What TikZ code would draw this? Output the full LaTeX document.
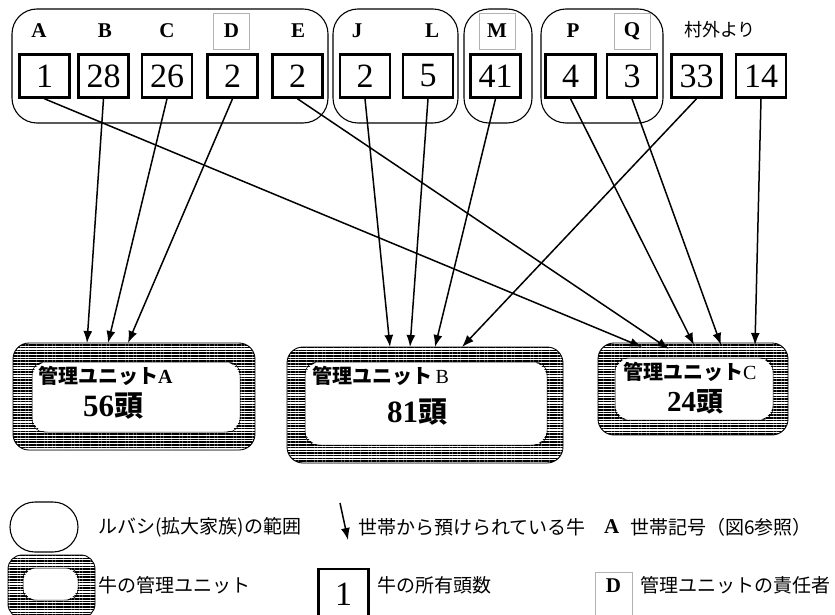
\documentclass[tikz,border=0pt]{standalone}
\usepackage{fontspec}
\setmainfont{Liberation Serif}
\newfontfamily\cjk{Noto Sans CJK JP}
\usetikzlibrary{arrows.meta,patterns.meta}
\begin{document}
\begin{tikzpicture}[x=1pt,y=-1pt,
  numbox/.style={draw, line width=2.6pt, minimum width=50pt, minimum height=43pt, inner sep=0pt, font=\fontsize{34}{34}\selectfont},
  hh/.style={font=\bfseries\fontsize{21}{21}\selectfont, inner sep=0pt},
  respbox/.style={hh, draw=gray!60, line width=0.7pt, minimum width=36pt, minimum height=36pt},
  grp/.style={draw, line width=1.1pt, rounded corners=25pt},
  link/.style={-{Latex[length=12pt,width=9pt]}, line width=1.5pt},
  hatch/.style={pattern={Lines[angle=0,distance=2.7pt,line width=1.5pt]}, even odd rule},
  lg/.style={font=\cjk\fontsize{19}{19}\selectfont, inner sep=0pt, anchor=west},
  ulabel/.style={font=\cjk\bfseries\fontsize{20}{20}\selectfont, inner sep=0pt, anchor=west},
  ucount/.style={inner sep=0pt}
]
\useasboundingbox (0,0) rectangle (835,615);

% groups (extended families)
\draw[grp] (12,9) rectangle (328,123);
\draw[grp] (333,9) rectangle (458,123);
\draw[grp] (464,9) rectangle (532,123);
\draw[grp] (541,9) rectangle (663,123);

% household letters
\node[hh] (lA) at (39,31) {A};
\node[hh] (lB) at (105,31) {B};
\node[hh] (lC) at (167,31) {C};
\node[respbox] (lD) at (231.5,31) {D};
\node[hh] (lE) at (298,31) {E};
\node[hh] (lJ) at (357,31) {J};
\node[hh] (lL) at (432,31) {L};
\node[respbox] (lM) at (497,31) {M};
\node[hh] (lP) at (573,31) {P};
\node[respbox] (lQ) at (632,31) {Q};
\node[font=\cjk\fontsize{18}{18}\selectfont, inner sep=0pt] (out) at (720,30) {村外より};

% number boxes
\node[numbox] (n1) at (44.5,76) {1};
\node[numbox] (n28) at (103.5,76) {28};
\node[numbox] (n26) at (167,76) {26};
\node[numbox] (nD) at (232.5,76) {2};
\node[numbox] (nE) at (297.5,76) {2};
\node[numbox] (nJ) at (365,76) {2};
\node[numbox] (nL) at (428,76) {5};
\node[numbox] (nM) at (495.5,76) {41};
\node[numbox] (nP) at (570.5,76) {4};
\node[numbox] (nQ) at (632,76) {3};
\node[numbox] (n33) at (696.5,76) {33};
\node[numbox] (n14) at (761,76) {14};

% management units
\fill[hatch, rounded corners=16pt] (13,343) rectangle (255,450) (32,362) rectangle (240,432);
\draw[line width=0.9pt, rounded corners=16pt] (13,343) rectangle (255,450);
\draw[line width=0.5pt, rounded corners=12pt] (32,362) rectangle (240,432);
\fill[hatch, rounded corners=16pt] (287,347) rectangle (563,463) (305,362) rectangle (547,445);
\draw[line width=0.9pt, rounded corners=16pt] (287,347) rectangle (563,463);
\draw[line width=0.5pt, rounded corners=12pt] (305,362) rectangle (547,445);
\fill[hatch, rounded corners=16pt] (598,343) rectangle (788,435) (615,358) rectangle (773,420);
\draw[line width=0.9pt, rounded corners=16pt] (598,343) rectangle (788,435);
\draw[line width=0.5pt, rounded corners=12pt] (615,358) rectangle (773,420);

\node[ulabel] (uA) at (38,376) {管理ユニット{\rmfamily A}};
\node[ucount] (cA) at (113,406) {{\bfseries\fontsize{31}{31}\selectfont 56}{\cjk\bfseries\fontsize{29}{29}\selectfont 頭}};
\node[ulabel] (uB) at (312,376) {管理ユニット\,{\rmfamily\mdseries B}};
\node[ucount] (cB) at (417,412) {{\bfseries\fontsize{31}{31}\selectfont 81}{\cjk\bfseries\fontsize{29}{29}\selectfont 頭}};
\node[ulabel] (uC) at (623,372) {管理ユニット{\rmfamily\mdseries C}};
\node[ucount] (cC) at (695,402) {{\bfseries\fontsize{29}{29}\selectfont 24}{\cjk\bfseries\fontsize{27}{27}\selectfont 頭}};

% arrow targets
\coordinate (a1) at (87,343);
\coordinate (a2) at (108,343);
\coordinate (a3) at (128,343);
\coordinate (b1) at (390,347);
\coordinate (b2) at (410,347);
\coordinate (b3) at (435,347);
\coordinate (b4) at (462,347);
\coordinate (c1) at (642,347);
\coordinate (c2) at (669,349);
\coordinate (c3) at (694,345);
\coordinate (c4) at (721,345);
\coordinate (c5) at (755,345);

\draw[link] (n1.south) -- (c1);
\draw[link] (n28.south) -- (a1);
\draw[link] (n26.south) -- (a2);
\draw[link] (nD.south) -- (a3);
\draw[link] (nE.south) -- (c2);
\draw[link] (nJ.south) -- (b1);
\draw[link] (nL.south) -- (b2);
\draw[link] (nM.south) -- (b3);
\draw[link] (n33.south) -- (b4);
\draw[link] (nP.south) -- (c3);
\draw[link] (nQ.south) -- (c4);
\draw[link] (n14.south) -- (c5);

% legend
\draw[line width=1.1pt, rounded corners=25pt] (10,502) rectangle (78,552);
\node[lg] (t1) at (98,527) {ルバシ(拡大家族)の範囲};
\coordinate (ls) at (340,503);
\coordinate (le) at (348,540);
\draw[link] (ls) -- (le);
\node[lg] (t2) at (358,527) {世帯から預けられている牛};
\node[hh, anchor=west] (t3) at (604,527) {A};
\node[lg] (t4) at (630,527) {世帯記号（図6参照）};

\fill[hatch, rounded corners=14pt] (8,555) rectangle (95,618) (23,568) rectangle (78,600);
\draw[line width=0.9pt, rounded corners=14pt] (8,555) rectangle (95,618);
\draw[line width=0.5pt, rounded corners=10pt] (23,568) rectangle (78,600);
\node[lg] (t5) at (98,585) {牛の管理ユニット};

\node[numbox, minimum height=50pt] (lg1) at (343.5,594) {1};
\node[lg] (t6) at (377,585) {牛の所有頭数};

\node[respbox, minimum height=48pt, minimum width=37pt] (lgD) at (613.5,596) {};
\node[hh] (tD) at (613.5,586) {D};
\node[lg] (t7) at (640,585) {管理ユニットの責任者};
\end{tikzpicture}
\end{document}
